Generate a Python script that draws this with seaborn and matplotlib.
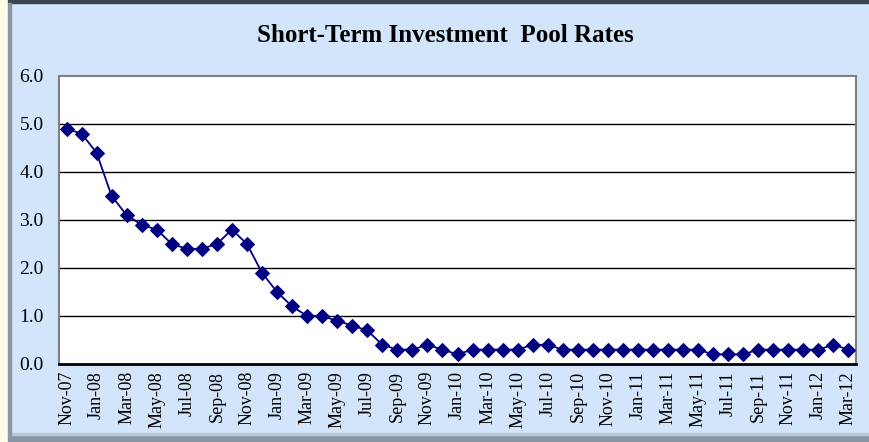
import numpy as np
import pandas as pd
import matplotlib.pyplot as plt
import matplotlib.patches as mpatches
import seaborn as sns

months = ['Nov-07', 'Dec-07',
	'Jan-08', 'Feb-08', 'Mar-08', 'Apr-08', 'May-08', 'Jun-08', 'Jul-08', 'Aug-08', 'Sep-08', 'Oct-08', 'Nov-08', 'Dec-08',
	'Jan-09', 'Feb-09', 'Mar-09', 'Apr-09', 'May-09', 'Jun-09', 'Jul-09', 'Aug-09', 'Sep-09', 'Oct-09', 'Nov-09', 'Dec-09',
	'Jan-10', 'Feb-10', 'Mar-10', 'Apr-10', 'May-10', 'Jun-10', 'Jul-10', 'Aug-10', 'Sep-10', 'Oct-10', 'Nov-10', 'Dec-10',
	'Jan-11', 'Feb-11', 'Mar-11', 'Apr-11', 'May-11', 'Jun-11', 'Jul-11', 'Aug-11', 'Sep-11', 'Oct-11', 'Nov-11', 'Dec-11',
	'Jan-12', 'Feb-12', 'Mar-12']

rates = [4.9, 4.8,
	4.4, 3.5, 3.1, 2.9, 2.8, 2.5, 2.4, 2.4, 2.5, 2.8, 2.5, 1.9,
	1.5, 1.2, 1.0, 1.0, 0.9, 0.8, 0.7, 0.4, 0.3, 0.3, 0.4, 0.3,
	0.2, 0.3, 0.3, 0.3, 0.3, 0.4, 0.4, 0.3, 0.3, 0.3, 0.3, 0.3,
	0.3, 0.3, 0.3, 0.3, 0.3, 0.2, 0.2, 0.2, 0.3, 0.3, 0.3, 0.3,
	0.3, 0.4, 0.3]

yticks = [0, 1, 2, 3, 4, 5, 6]

df = pd.DataFrame({'month': months, 'rate': rates})
df['pos'] = np.arange(len(df))

sns.set_style('white')
plt.rcParams['font.family'] = ['Liberation Serif', 'DejaVu Serif']
plt.rcParams['text.color'] = 'black'
plt.rcParams['xtick.color'] = 'black'
plt.rcParams['ytick.color'] = 'black'

W, H = 869, 442
fig = plt.figure(figsize=(W / 100, H / 100), dpi=100)
fig.patch.set_facecolor('#d3e5fa')

# frame decorations: cream strip on left, shadow at bottom, dark top edge
fig.patches.append(mpatches.Rectangle((0, 0), 8 / W, 1, transform=fig.transFigure, color='#fffde9', zorder=0))
fig.patches.append(mpatches.Rectangle((8 / W, 0), 1, 7 / H, transform=fig.transFigure, color='#8a96a6', zorder=0))
fig.patches.append(mpatches.Rectangle((8 / W, 7 / H), 1, 2 / H, transform=fig.transFigure, color='#b8c6d8', zorder=0))
fig.patches.append(mpatches.Rectangle((8 / W, 1 - 3 / H), 1, 3 / H, transform=fig.transFigure, color='#3c4650', zorder=0))
fig.patches.append(mpatches.Rectangle((8 / W, 7 / H), 3 / W, 1 - 10 / H, transform=fig.transFigure, color='#8a96a6', zorder=0))

left, right, top, bottom = 59, 856, 76, 364
ax = fig.add_axes([left / W, 1 - bottom / H, (right - left) / W, (bottom - top) / H])
ax.set_facecolor('white')

for y in yticks[1:-1]:
	ax.axhline(y, color='black', lw=1, zorder=1)

sns.lineplot(data=df, x='pos', y='rate', ax=ax, color='#000080', lw=1.3,
	marker='D', markersize=7.5, markeredgecolor='#000080', zorder=3)

ax.set_xlim(-0.5, len(df) - 0.5)
ax.set_ylim(0, 6)
ax.set_yticks(yticks)
ax.set_yticklabels([f"{v:.1f}" for v in yticks], fontsize=14)
ax.set_xticks(df['pos'][::2])
ax.set_xticklabels(df['month'][::2], rotation=90, fontsize=13)
ax.tick_params(axis='y', length=0, pad=11)
ax.tick_params(axis='x', length=0, pad=5)
ax.set_xlabel('')
ax.set_ylabel('')

for side in ['left', 'top', 'right']:
	ax.spines[side].set_color('#808080')
	ax.spines[side].set_linewidth(1.5)
ax.spines['bottom'].set_color('black')
ax.spines['bottom'].set_linewidth(2)

fig.text(445 / W, 1 - 36 / H, 'Short-Term Investment  Pool Rates', ha='center', va='center',
	fontsize=18, fontweight='bold')

fig.savefig('out.png', dpi=100, facecolor=fig.get_facecolor())
